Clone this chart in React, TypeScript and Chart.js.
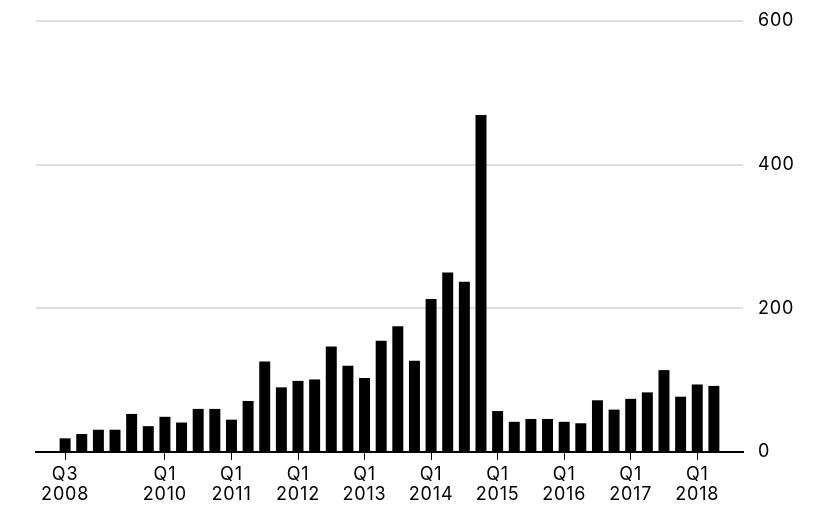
import React, { useEffect, useRef } from "react";
import { Chart, registerables } from "chart.js";

Chart.register(...registerables);

// Quarterly values, Q3 2008 .. Q2 2018
const quarters: string[] = [
  "Q3 2008", "Q4 2008",
  "Q1 2009", "Q2 2009", "Q3 2009", "Q4 2009",
  "Q1 2010", "Q2 2010", "Q3 2010", "Q4 2010",
  "Q1 2011", "Q2 2011", "Q3 2011", "Q4 2011",
  "Q1 2012", "Q2 2012", "Q3 2012", "Q4 2012",
  "Q1 2013", "Q2 2013", "Q3 2013", "Q4 2013",
  "Q1 2014", "Q2 2014", "Q3 2014", "Q4 2014",
  "Q1 2015", "Q2 2015", "Q3 2015", "Q4 2015",
  "Q1 2016", "Q2 2016", "Q3 2016", "Q4 2016",
  "Q1 2017", "Q2 2017", "Q3 2017", "Q4 2017",
  "Q1 2018", "Q2 2018",
];

const values: number[] = [
  19, 25, 31, 31, 53, 36, 49, 41, 60, 60,
  45, 71, 126, 90, 99, 101, 147, 120, 103, 155,
  175, 127, 213, 250, 237, 469, 57, 42, 46, 46,
  42, 40, 72, 59, 74, 83, 114, 77, 94, 92,
];

// Labelled tick positions (category indices) and their labels
const tickIndices: number[] = [0, 6, 10, 14, 18, 22, 26, 30, 34, 38];
const tickLabels: string[][] = [
  ["Q3", "2008"], ["Q1", "2010"], ["Q1", "2011"], ["Q1", "2012"], ["Q1", "2013"],
  ["Q1", "2014"], ["Q1", "2015"], ["Q1", "2016"], ["Q1", "2017"], ["Q1", "2018"],
];

const yTicks: number[] = [0, 200, 400, 600];

const FONT = "Inter, 'Liberation Sans', Arial, sans-serif";

const spacingPlugin = {
  id: "letterSpacing",
  beforeUpdate: (chart: any) => {
    chart.ctx.letterSpacing = "0.8px";
  },
  beforeDraw: (chart: any) => {
    chart.ctx.letterSpacing = "0.8px";
  },
};

export default function App() {
  const ref = useRef<HTMLCanvasElement | null>(null);

  useEffect(() => {
    if (!ref.current) return;
    const chart = new Chart(ref.current, {
      type: "bar",
      data: {
        datasets: [
          {
            label: "Value",
            data: values.map((v, i) => ({ x: i, y: v })),
            backgroundColor: "#000000",
            borderWidth: 0,
            barPercentage: 1,
            categoryPercentage: 0.66,
          },
        ],
      },
      plugins: [spacingPlugin],
      options: {
        animation: false,
        responsive: false,
        maintainAspectRatio: false,
        layout: { padding: { left: 36, top: 21, right: 0, bottom: 0 } },
        plugins: {
          legend: { display: false },
          tooltip: { enabled: false },
        },
        scales: {
          x: {
            type: "linear",
            offset: false,
            min: -1.75,
            max: 40.75,
            afterBuildTicks: (scale: any) => {
              scale.ticks = tickIndices.map((v) => ({ value: v }));
            },
            afterFit: (scale: any) => {
              scale.height = 63;
            },
            ticks: {
              autoSkip: false,
              maxRotation: 0,
              color: "#000",
              padding: 5,
              font: { family: FONT, size: 18, lineHeight: 1.11 },
              callback: (value: any) => {
                const k = tickIndices.indexOf(Number(value));
                return k >= 0 ? tickLabels[k] : "";
              },
            },
            grid: {
              display: true,
              offset: false,
              drawOnChartArea: false,
              drawTicks: true,
              tickLength: 8,
              color: "#000",
              lineWidth: 1,
            },
            border: { display: true, color: "#000", width: 2 },
          },
          y: {
            position: "right",
            min: 0,
            max: 600,
            afterBuildTicks: (scale: any) => {
              scale.ticks = yTicks.map((v) => ({ value: v }));
            },
            afterFit: (scale: any) => {
              scale.width = 75;
            },
            ticks: {
              color: "#000",
              padding: 0,
              font: { family: FONT, size: 18 },
            },
            grid: {
              color: "#dedede",
              lineWidth: 2,
              drawTicks: true,
              tickLength: 15,
              tickColor: "rgba(0,0,0,0)",
            },
            border: { display: false },
          },
        },
      },
    });
    return () => chart.destroy();
  }, []);

  return (
    <div style={{ position: "absolute", left: 0, top: 0, width: 818, height: 515, background: "#fff" }}>
      <canvas ref={ref} width={818} height={515} style={{ width: 818, height: 515 }} />
    </div>
  );
}
